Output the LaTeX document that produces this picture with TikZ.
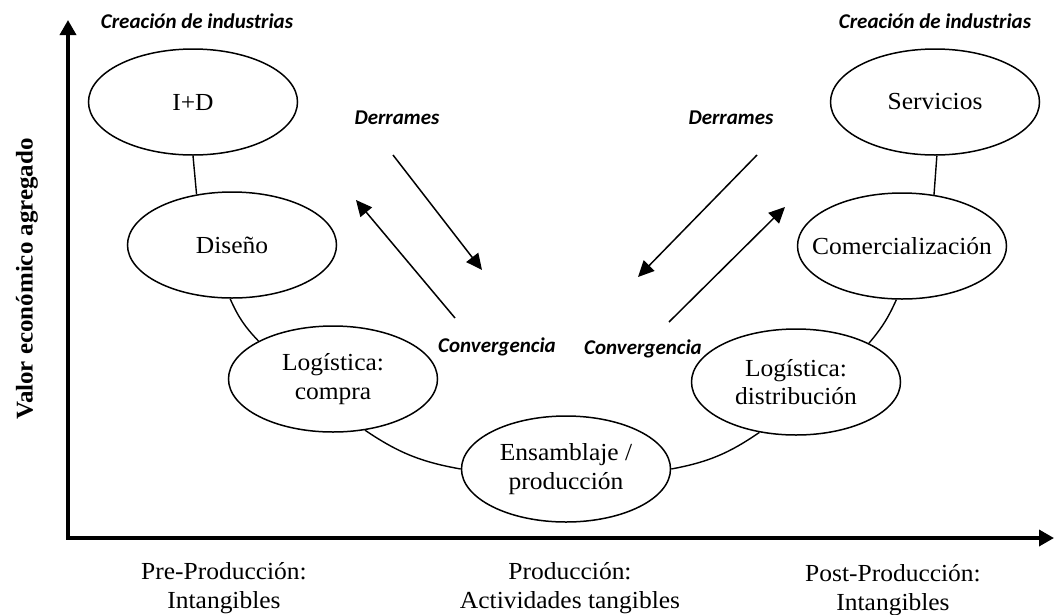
\documentclass[tikz,border=0pt]{standalone}
\usepackage{fontspec}
\setmainfont{Liberation Serif}[FakeStretch=1.04]
\newfontfamily\notefont{Carlito}
\usetikzlibrary{shapes.geometric,arrows.meta}

\begin{document}
\begin{tikzpicture}[x=1pt,y=-1pt,
  stage/.style={draw, ellipse, line width=1.5pt, minimum width=209pt, minimum height=106pt, inner sep=0pt},
  stagetext/.style={align=center, font=\fontsize{24.5}{28.5}\selectfont},
  link/.style={line width=1.4pt},
  flow/.style={line width=1.5pt, -{Triangle[length=16pt,width=15pt]}},
  note/.style={font=\notefont\bfseries\itshape\fontsize{21}{25}\selectfont, inner sep=0pt},
  phase/.style={align=center, font=\fontsize{24.5}{29}\selectfont},
  axis/.style={line width=3.5pt, {Triangle[length=15pt,width=16pt]}-{Triangle[length=15pt,width=16pt]}}
]
\useasboundingbox (0,0) rectangle (1055,614);

% axes
\coordinate (ytip) at (68,20);
\coordinate (xtip) at (1054,538);
\draw[axis] (ytip) |- (xtip);

% value chain stages
\node[stage] (id)   at (193,102) {};
\node[stage] (dis)  at (232,245) {};
\node[stage] (buy)  at (333,379) {};
\node[stage] (ens)  at (566,469) {};
\node[stage] (dist) at (796,382) {};
\node[stage] (mkt)  at (902,246) {};
\node[stage] (serv) at (935,102) {};

\node[stagetext] (id-t)   at (id)   {I+D};
\node[stagetext] (dis-t)  at (dis)  {Diseño};
\node[stagetext] (buy-t)  at (buy)  {Logística:\\compra};
\node[stagetext] (ens-t)  at (ens)  {Ensamblaje /\\producción};
\node[stagetext] (dist-t) at (dist) {Logística:\\distribución};
\node[stagetext] (mkt-t)  at (mkt)  {Comercialización};
\node[stagetext] (serv-t) at (serv) {Servicios};

% links along the curve
\draw[link] (id.-90) -- (dis.125);
\draw[link] (dis.-92) to[bend right=10] (buy.153);
\draw[link] (buy.-58) to[bend right=12] (ens.180);
\draw[link] (ens.0) to[bend right=12] (dist.234);
\draw[link] (dist.28) to[bend right=8] (mkt.264);
\draw[link] (serv.-88) -- (mkt.58);

% spill-over and convergence arrows
\coordinate (sl-a) at (393,155); \coordinate (sl-b) at (482,270);
\coordinate (cl-a) at (455,318); \coordinate (cl-b) at (356,200);
\coordinate (sr-a) at (757,155); \coordinate (sr-b) at (638,277);
\coordinate (cr-a) at (669,322); \coordinate (cr-b) at (785,207);
\draw[flow] (sl-a) -- (sl-b);
\draw[flow] (cl-a) -- (cl-b);
\draw[flow] (sr-a) -- (sr-b);
\draw[flow] (cr-a) -- (cr-b);

% annotations
\node[note, anchor=base] (cre-l) at (197,28) {Creación de industrias};
\node[note, anchor=base] (cre-r) at (935,28) {Creación de industrias};
\node[note, anchor=base] (der-l) at (397,124) {Derrames};
\node[note, anchor=base] (der-r) at (731,124) {Derrames};
\node[note, anchor=base] (con-l) at (497,352) {Convergencia};
\node[note, anchor=base] (con-r) at (643,354) {Convergencia};

% axis labels
\node[rotate=90, font=\bfseries\fontsize{24}{28}\selectfont] (ylab) at (27,279) {Valor económico agregado};
\node[phase] (pre)  at (224,588) {Pre-Producción:\\Intangibles};
\node[phase] (pro)  at (570,588) {Producción:\\Actividades tangibles};
\node[phase] (post) at (893,590) {Post-Producción:\\Intangibles};
\end{tikzpicture}
\end{document}
